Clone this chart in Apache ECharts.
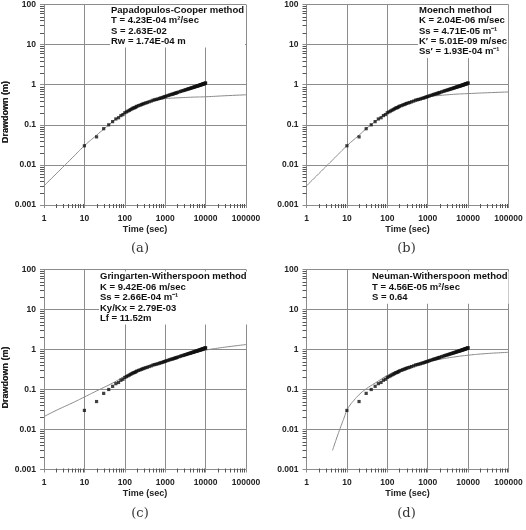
<!DOCTYPE html>
<html>
<head>
<meta charset="utf-8">
<script src="https://cdn.jsdelivr.net/npm/echarts@6/dist/echarts.min.js"></script>
<style>
  html, body { margin: 0; padding: 0; background: #fff; }
  #main { width: 526px; height: 530px; }
</style>
</head>
<body>
<div id="main"></div>
<script>
// observed drawdown (same data in all four panels)
const obsTime = [10, 20, 30, 40, 50, 60, 70, 80, 90, 100, 110, 120, 130, 140, 150, 160, 170, 180, 190, 200,
  220, 240, 260, 280, 300, 330, 360, 400, 450, 500, 550, 600, 660, 720, 780, 840, 900, 960, 1020,
  1100, 1200, 1300, 1400, 1500, 1600, 1700, 1800, 1900, 2000, 2200, 2400, 2600, 2800, 3000, 3200,
  3400, 3600, 3800, 4000, 4200, 4400, 4600, 4800, 5000, 5200, 5400, 5600, 5800, 6000, 6200, 6400,
  6600, 6800, 7000, 7200, 7400, 7600, 7800, 8000, 8200, 8400, 8600, 8800, 9000, 9200, 9400, 9600,
  9800, 10000]
const obsDrawdown = [0.03, 0.05, 0.08, 0.1, 0.12, 0.14, 0.15, 0.17, 0.18, 0.2, 0.21, 0.22, 0.23, 0.24, 0.25, 0.26, 0.265, 0.27, 0.28, 0.29,
  0.3, 0.31, 0.32, 0.33, 0.34, 0.35, 0.36, 0.375, 0.39, 0.41, 0.42, 0.43, 0.44, 0.455, 0.465, 0.475, 0.49, 0.5, 0.51,
  0.525, 0.54, 0.555, 0.57, 0.58, 0.59, 0.605, 0.615, 0.625, 0.64, 0.66, 0.68, 0.7, 0.715, 0.73, 0.745,
  0.76, 0.775, 0.79, 0.8, 0.815, 0.825, 0.84, 0.85, 0.86, 0.875, 0.885, 0.895, 0.905, 0.915, 0.925, 0.935,
  0.945, 0.955, 0.965, 0.975, 0.985, 0.99, 1.0, 1.01, 1.02, 1.03, 1.04, 1.045, 1.055, 1.06, 1.07, 1.08,
  1.09, 1.1]

// fitted type curves
const fitTimeA = [1, 2, 5, 10, 20, 30, 50, 70, 100, 150, 200, 300, 500, 700, 1000, 2000, 5000, 10000, 30000, 100000]
const fitDrawA = [0.003, 0.006, 0.015, 0.03, 0.055, 0.078, 0.12, 0.155, 0.2, 0.26, 0.3, 0.35, 0.4, 0.43, 0.45, 0.47, 0.49, 0.5, 0.53, 0.56]

const fitTimeB = [1, 2, 5, 10, 20, 30, 50, 70, 100, 200, 300, 500, 700, 1000, 2000, 5000, 10000, 30000, 100000]
const fitDrawB = [0.003, 0.006, 0.015, 0.03, 0.055, 0.08, 0.12, 0.155, 0.2, 0.29, 0.35, 0.42, 0.46, 0.5, 0.54, 0.58, 0.6, 0.63, 0.66]

const fitTimeC = [1, 2, 5, 10, 20, 50, 100, 200, 500, 1000, 2000, 5000, 10000, 20000, 50000, 100000]
const fitDrawC = [0.021, 0.03, 0.046, 0.065, 0.092, 0.145, 0.215, 0.29, 0.41, 0.51, 0.62, 0.8, 0.96, 1.08, 1.22, 1.33]

const fitTimeD = [4.4, 5, 5.7, 6.5, 7.6, 8.5, 10, 12, 15, 20, 30, 50, 70, 100, 200, 500, 1000, 2000, 5000, 10000, 20000, 50000, 100000]
const fitDrawD = [0.003, 0.0044, 0.0065, 0.0094, 0.0144, 0.0195, 0.03, 0.041, 0.054, 0.074, 0.104, 0.145, 0.18, 0.225, 0.31, 0.42, 0.5, 0.57, 0.66, 0.72, 0.77, 0.82, 0.85]

const xTickLabels = ["1", "10", "100", "1000", "10000", "100000"]
const yTickLabels = ["0.001", "0.01", "0.1", "1", "10", "100"]

// minor tick values (2..9 in every decade)
const xMinorTicks = [2, 3, 4, 5, 6, 7, 8, 9, 20, 30, 40, 50, 60, 70, 80, 90,
  200, 300, 400, 500, 600, 700, 800, 900, 2000, 3000, 4000, 5000, 6000, 7000, 8000, 9000,
  20000, 30000, 40000, 50000, 60000, 70000, 80000, 90000]
const yMinorTicks = [0.002, 0.003, 0.004, 0.005, 0.006, 0.007, 0.008, 0.009, 0.02, 0.03, 0.04, 0.05, 0.06, 0.07, 0.08, 0.09,
  0.2, 0.3, 0.4, 0.5, 0.6, 0.7, 0.8, 0.9, 2, 3, 4, 5, 6, 7, 8, 9, 20, 30, 40, 50, 60, 70, 80, 90]

const panels = [
  { caption: "(a)", fitT: fitTimeA, fitS: fitDrawA,
    legend: ["Papadopulos-Cooper method", "T = 4.23E-04 m²/sec", "S = 2.63E-02", "Rw = 1.74E-04 m"] },
  { caption: "(b)", fitT: fitTimeB, fitS: fitDrawB,
    legend: ["Moench method", "K = 2.04E-06 m/sec", "Ss = 4.71E-05 m⁻¹", "K′ = 5.01E-09 m/sec", "Ss′ = 1.93E-04 m⁻¹"] },
  { caption: "(c)", fitT: fitTimeC, fitS: fitDrawC,
    legend: ["Gringarten-Witherspoon method", "K = 9.42E-06 m/sec", "Ss = 2.66E-04 m⁻¹", "Ky/Kx = 2.79E-03", "Lf = 11.52m"] },
  { caption: "(d)", fitT: fitTimeD, fitS: fitDrawD,
    legend: ["Neuman-Witherspoon method", "T = 4.56E-05 m²/sec", "S = 0.64"] },
]

// layout of the 2x2 panels
const boxes = [
  { left: 44, top: 4, width: 202, height: 201, legX: 110, legY: 5 },
  { left: 306.5, top: 4, width: 202, height: 201, legX: 418, legY: 5 },
  { left: 44, top: 269.5, width: 202, height: 200, legX: 99, legY: 271.5 },
  { left: 306.5, top: 269.5, width: 202, height: 200, legX: 371, legY: 271.5 },
]

const font = "Liberation Sans, Arial, sans-serif"
const gridColor = "#8c8c8c"
const tickColor = "#555"

const chart = echarts.init(document.getElementById("main"), null, { renderer: "canvas" })

const grid = [], xAxis = [], yAxis = [], series = [], graphic = []

panels.forEach((p, i) => {
  const b = boxes[i]
  grid.push({ left: b.left, top: b.top, width: b.width, height: b.height, containLabel: false })
  xAxis.push({
    type: "log", gridIndex: i, min: 1, max: 100000, logBase: 10,
    axisLine: { show: true, lineStyle: { color: gridColor, width: 1 } },
    axisTick: { show: true, length: 3, lineStyle: { color: gridColor } },
    splitLine: { show: true, lineStyle: { color: gridColor, width: 1 } },
    axisLabel: {
      fontFamily: font, fontWeight: "bold", fontSize: 8.5, color: "#222", margin: 9,
      formatter: (v) => xTickLabels[Math.round(Math.log10(v))],
    },
    name: "Time (sec)", nameLocation: "middle", nameGap: 20,
    nameTextStyle: { fontFamily: font, fontWeight: "bold", fontSize: 9, color: "#222" },
  })
  yAxis.push({
    type: "log", gridIndex: i, min: 0.001, max: 100, logBase: 10,
    axisLine: { show: true, lineStyle: { color: gridColor, width: 1 } },
    axisTick: { show: true, length: 4, lineStyle: { color: gridColor } },
    splitLine: { show: true, lineStyle: { color: gridColor, width: 1 } },
    axisLabel: {
      fontFamily: font, fontWeight: "bold", fontSize: 8.5, color: "#222", margin: 8,
      formatter: (v) => yTickLabels[Math.round(Math.log10(v)) + 3],
    },
  })
  // minor ticks on the time axis, placed through the axis scale
  series.push({
    type: "custom", xAxisIndex: i, yAxisIndex: i, silent: true, clip: false,
    data: xMinorTicks.map((v) => [v, 0.001]),
    renderItem: (params, api) => {
      const pt = api.coord([api.value(0), api.value(1)])
      const x = Math.round(pt[0]) + 0.5
      return { type: "line", shape: { x1: x, y1: pt[1] - 1, x2: x, y2: pt[1] + 3 },
        style: { stroke: tickColor, lineWidth: 1 } }
    },
  })
  // minor ticks on the drawdown axis
  series.push({
    type: "custom", xAxisIndex: i, yAxisIndex: i, silent: true, clip: false,
    data: yMinorTicks.map((v) => [1, v]),
    renderItem: (params, api) => {
      const pt = api.coord([api.value(0), api.value(1)])
      const y = Math.round(pt[1]) + 0.5
      return { type: "line", shape: { x1: pt[0] - 4, y1: y, x2: pt[0], y2: y },
        style: { stroke: tickColor, lineWidth: 1 } }
    },
  })
  series.push({
    type: "line", xAxisIndex: i, yAxisIndex: i, smooth: true, symbol: "none",
    lineStyle: { color: "#8a8a8a", width: 1 },
    data: p.fitT.map((t, k) => [t, p.fitS[k]]),
    z: 2,
  })
  series.push({
    type: "scatter", xAxisIndex: i, yAxisIndex: i, symbol: "rect", symbolSize: 3.2,
    itemStyle: { color: "#111" },
    data: obsTime.map((t, k) => [t, obsDrawdown[k]]),
    z: 3,
  })
  graphic.push({
    type: "text", left: b.legX, top: b.legY, z: 100,
    style: {
      text: p.legend.join("\n"), fill: "#111", lineHeight: 10.4,
      font: "bold 9.5px " + font, backgroundColor: "#fff", padding: [0, 1, 1, 1],
    },
  })
  graphic.push({
    type: "text", x: 6, y: b.top + 108, rotation: Math.PI / 2,
    style: {
      text: "Drawdown (m)", fill: "#222", align: "center", verticalAlign: "middle",
      font: "bold 9px " + font,
    },
  })
  graphic.push({
    type: "text", x: b.left + (i % 2 === 0 ? 96 : 100), y: b.top + b.height + 44,
    style: {
      text: p.caption, fill: "#333", align: "center", verticalAlign: "middle",
      font: "13px DejaVu Serif, Liberation Serif, serif",
    },
  })
})

chart.setOption({
  animation: false,
  backgroundColor: "#fff",
  grid, xAxis, yAxis, series, graphic,
})
</script>
</body>
</html>
